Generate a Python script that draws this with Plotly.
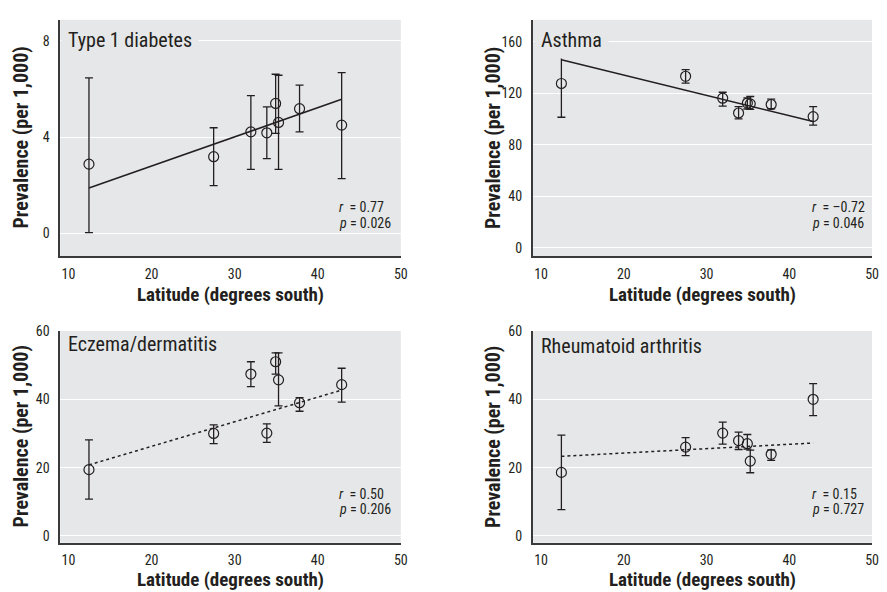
import plotly.graph_objects as go

# Latitude of the eight sites (degrees south)
latitude = [12.46, 27.47, 31.95, 33.87, 34.93, 35.28, 37.81, 42.88]

# Type 1 diabetes (per 1,000)
diab_val = [2.88, 3.19, 4.22, 4.18, 5.40, 4.61, 5.18, 4.50]
diab_hi = [6.46, 4.39, 5.72, 5.26, 6.61, 6.57, 6.16, 6.68]
diab_lo = [0.04, 1.99, 2.66, 3.11, 4.16, 2.66, 4.22, 2.28]

# Asthma
asth_val = [127.6, 133.2, 116.2, 104.7, 112.4, 111.8, 111.3, 101.9]
asth_hi = [153.1, 138.3, 120.8, 109.6, 116.4, 117.5, 115.4, 109.6]
asth_lo = [101.4, 127.9, 110.1, 100.1, 107.8, 107.5, 108.0, 95.3]

# Eczema/dermatitis
ecz_val = [19.4, 30.0, 47.4, 30.1, 51.0, 45.7, 39.0, 44.3]
ecz_hi = [28.1, 32.5, 51.0, 32.8, 53.6, 53.6, 40.5, 49.1]
ecz_lo = [10.8, 27.0, 43.7, 27.4, 47.4, 38.1, 36.5, 39.2]

# Rheumatoid arthritis
ra_val = [18.6, 26.0, 30.1, 27.9, 27.0, 21.9, 23.9, 40.0]
ra_hi = [29.5, 28.8, 33.3, 30.4, 29.7, 25.1, 25.2, 44.6]
ra_lo = [7.7, 23.5, 26.9, 25.3, 25.4, 18.5, 22.1, 35.2]

# Fitted regression lines (end points)
fit_x = [12.46, 42.88]
diab_fit = [1.89, 5.57]
asth_fit = [146.0, 98.1]
ecz_fit = [20.8, 42.7]
ra_fit = [23.3, 27.2]

panel_titles = ["Type 1 diabetes", "Asthma", "Eczema/dermatitis", "Rheumatoid arthritis"]
r_texts = ["0.77", "\u20130.72", "0.50", "0.15"]
p_texts = ["0.026", "0.046", "0.206", "0.727"]
x_ticks = [10, 20, 30, 40, 50]
y_ticks = [[0, 4, 8], [0, 40, 80, 120, 160], [0, 20, 40, 60], [0, 20, 40, 60]]
y_ranges = [[-0.94, 8.87], [-6.4, 177.0], [-2.0, 60.0], [-2.0, 60.0]]

FONT = "Roboto Condensed, Liberation Sans Narrow, sans-serif"
INK = "#231f20"
BG = "#e6e7e8"
W, H = 887, 592

# plot-area pixel boxes: (left, right, top, bottom)
boxes = [(60.7, 404.0, 12, 252), (537.0, 879.0, 12, 252),
         (60.7, 404.0, 328, 543), (537.0, 879.0, 328, 543)]
title_off = [20, 20, 13, 15]
xtitle_y = [291, 291, 580.5, 580.5]

series = [(diab_val, diab_hi, diab_lo, diab_fit, "solid"),
          (asth_val, asth_hi, asth_lo, asth_fit, "solid"),
          (ecz_val, ecz_hi, ecz_lo, ecz_fit, "dot"),
          (ra_val, ra_hi, ra_lo, ra_fit, "dot")]

fig = go.Figure()
annotations = []
for i, (vals, hi, lo, fit, dash) in enumerate(series):
    n = "" if i == 0 else str(i + 1)
    xa, ya = "x" + n, "y" + n
    top = i < 2
    fig.add_trace(go.Scatter(
        x=fit_x, y=fit, mode="lines", xaxis=xa, yaxis=ya,
        line=dict(color=INK, width=1.5, dash=dash), showlegend=False, hoverinfo="skip"))
    fig.add_trace(go.Scatter(
        x=latitude, y=vals, mode="markers", xaxis=xa, yaxis=ya, showlegend=False,
        marker=dict(symbol="circle-open", size=10, color=INK, line=dict(width=1.2, color=INK)),
        error_y=dict(type="data", symmetric=False,
                     array=[h - v for h, v in zip(hi, vals)],
                     arrayminus=[v - l for v, l in zip(vals, lo)],
                     color=INK, thickness=1.3, width=4)))
    L, R, T, B = boxes[i]
    dom_x = [L / W, R / W]
    dom_y = [1 - B / H, 1 - T / H]
    fig.layout["xaxis" + n] = dict(
        domain=dom_x, range=[9, 50], tickvals=x_ticks, showgrid=False, zeroline=False,
        showline=True, linecolor="#3a3a3a", linewidth=1.6, ticks="", anchor=ya,
        tickfont=dict(family=FONT, size=14, color=INK), ticklabelstandoff=4)
    fig.layout["yaxis" + n] = dict(
        domain=dom_y, range=y_ranges[i], tickvals=y_ticks[i], showgrid=True,
        gridcolor="white", gridwidth=1.3, zeroline=False, showline=True,
        linecolor="#3a3a3a", linewidth=1.6, ticks="", anchor=xa,
        tickfont=dict(family=FONT, size=14, color=INK), ticklabelstandoff=6)

    # panel title
    annotations.append(dict(
        x=(L + (1 if top else 5)) / W, y=1 - (T + title_off[i]) / H, xref="paper", yref="paper",
        text=panel_titles[i], showarrow=False, xanchor="left", yanchor="middle",
        font=dict(family=FONT, size=20, color=INK),
        bgcolor=BG if top else "rgba(0,0,0,0)", borderpad=6 if top else 2))
    # r and p
    annotations.append(dict(
        x=(L + 279) / W, y=1 - (B - 50) / H, xref="paper", yref="paper",
        text="<i>r</i>\u00a0\u00a0= " + r_texts[i], showarrow=False,
        xanchor="left", yanchor="middle", font=dict(family=FONT, size=14, color=INK)))
    annotations.append(dict(
        x=(L + 279) / W, y=1 - (B - 34) / H, xref="paper", yref="paper",
        text="<i>p</i> = " + p_texts[i], showarrow=False,
        xanchor="left", yanchor="middle", font=dict(family=FONT, size=14, color=INK)))
    # axis titles
    annotations.append(dict(
        x=(L + R) / 2 / W, y=1 - xtitle_y[i] / H, xref="paper", yref="paper",
        text="<b>Latitude (degrees south)</b>", showarrow=False,
        xanchor="center", yanchor="middle", font=dict(family=FONT, size=19, color=INK)))
    annotations.append(dict(
        x=(L - 40) / W, y=1 - ((T + B) / 2) / H, xref="paper", yref="paper",
        text="<b>Prevalence (per 1,000)</b>", showarrow=False, textangle=-90,
        xanchor="center", yanchor="middle", font=dict(family=FONT, size=20, color=INK)))

fig.update_layout(
    width=W, height=H, margin=dict(l=0, r=0, t=0, b=0),
    paper_bgcolor="white", plot_bgcolor=BG, annotations=annotations,
    font=dict(family=FONT, color=INK))

fig.write_html("out.html", config={"displayModeBar": False},
               post_script="document.body.style.margin='0';document.body.style.overflow='hidden';")
